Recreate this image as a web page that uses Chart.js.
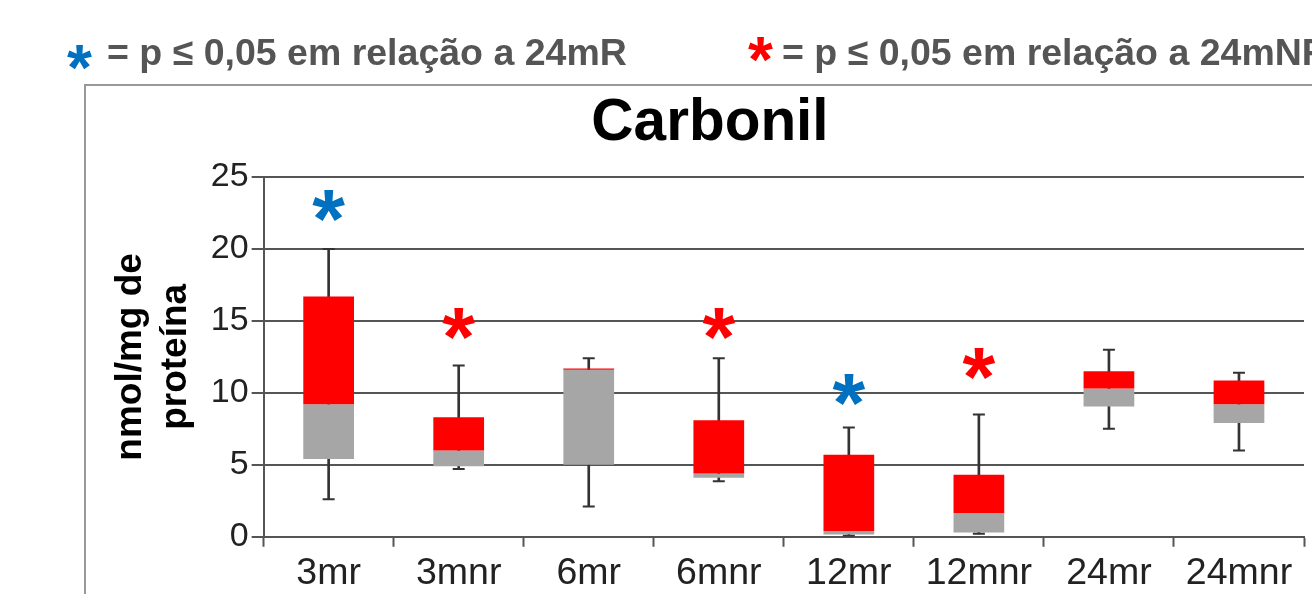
<!DOCTYPE html>
<html>
<head>
<meta charset="utf-8">
<script src="https://cdn.jsdelivr.net/npm/chart.js@4.4.0/dist/chart.umd.min.js"></script>
<style>
  html, body { margin: 0; padding: 0; background: #fff; }
  body { width: 1312px; height: 594px; position: relative; overflow: hidden; font-family: "Liberation Sans", Arial, sans-serif; }
  #frame { position: absolute; left: 84px; top: 84px; width: 1300px; height: 600px; border-left: 2px solid #999; border-top: 2px solid #999; }
  #chartBox { position: absolute; left: 0; top: 0; width: 1312px; height: 594px; }
  .note { position: absolute; font-weight: bold; font-size: 37.5px; line-height: 37.5px; color: #555; white-space: nowrap; }
  .star { position: absolute; font-weight: bold; font-size: 64px; line-height: 64px; }
  #title { position: absolute; left: 710px; top: 91px; transform: translateX(-50%); font-weight: bold; font-size: 58.5px; line-height: 58.5px; color: #000; white-space: nowrap; }
</style>
</head>
<body>
<div id="frame"></div>
<div id="chartBox"><canvas id="carbonilChart" width="1312" height="594"></canvas></div>
<div class="star" style="left:67px; top:36px; color:#0070c0;">*</div>
<div class="note" style="left:107px; top:34px;">= p ≤ 0,05 em relação a 24mR</div>
<div class="star" style="left:748px; top:28px; color:#ff0000;">*</div>
<div class="note" style="left:782px; top:34px;">= p ≤ 0,05 em relação a 24mNR</div>
<div id="title">Carbonil</div>
<script>
var categories = ['3mr', '3mnr', '6mr', '6mnr', '12mr', '12mnr', '24mr', '24mnr'];
var whiskerLow = [2.6, 4.7, 2.1, 3.85, 0.07, 0.2, 7.5, 6.0];
var quartile1 = [5.4, 4.9, 5.0, 4.1, 0.15, 0.3, 9.05, 7.9];
var median = [9.2, 6.0, 11.6, 4.4, 0.4, 1.65, 10.3, 9.2];
var quartile3 = [16.7, 8.3, 11.7, 8.1, 5.7, 4.3, 11.5, 10.85];
var whiskerHigh = [20.0, 11.9, 12.4, 12.4, 7.6, 8.5, 13.0, 11.4];
var starValue = [23.0, 14.8, null, 14.8, 10.2, 12.0, null, null];
var starColor = ['#0070c0', '#ff0000', null, '#ff0000', '#0070c0', '#ff0000', null, null];
var yTicks = [0, 5, 10, 15, 20, 25];

// asterisks above the boxes, placed with the chart scales
var starPlugin = {
    id: 'stars',
    afterDatasetsDraw: function(chart) {
        var ctx = chart.ctx;
        var x = chart.scales.x;
        var y = chart.scales.y;
        ctx.save();
        ctx.font = 'bold 84px "Liberation Sans", Arial, sans-serif';
        ctx.textAlign = 'center';
        ctx.textBaseline = 'alphabetic';
        var m = ctx.measureText('*');
        var shift = (m.actualBoundingBoxDescent - m.actualBoundingBoxAscent) / 2;
        starValue.forEach(function(v, i) {
            if (v === null) return;
            ctx.fillStyle = starColor[i];
            ctx.fillText('*', x.getPixelForValue(i), y.getPixelForValue(v) - shift);
        });
        ctx.restore();
    }
};

document.addEventListener("DOMContentLoaded", function() {
    var ctx = document.getElementById('carbonilChart').getContext('2d');

    var lowerBox = categories.map(function(c, i) { return [quartile1[i], median[i]]; });
    var upperBox = categories.map(function(c, i) { return [median[i], quartile3[i]]; });
    var stems = categories.map(function(c, i) { return [whiskerLow[i], whiskerHigh[i]]; });

    new Chart(ctx, {
        type: 'bar',
        data: {
            labels: categories,
            datasets: [{
                type: 'line',
                data: whiskerHigh,
                showLine: false,
                pointStyle: 'line',
                pointRadius: 6,
                pointBorderWidth: 2,
                borderColor: '#333',
                order: 0
            }, {
                type: 'line',
                data: whiskerLow,
                showLine: false,
                pointStyle: 'line',
                pointRadius: 6,
                pointBorderWidth: 2,
                borderColor: '#333',
                order: 0
            }, {
                data: upperBox,
                backgroundColor: '#ff0000',
                grouped: false,
                barPercentage: 0.39,
                categoryPercentage: 1,
                order: 1
            }, {
                data: lowerBox,
                backgroundColor: '#a6a6a6',
                grouped: false,
                barPercentage: 0.39,
                categoryPercentage: 1,
                order: 2
            }, {
                data: stems,
                backgroundColor: '#333',
                grouped: false,
                barThickness: 2,
                order: 3
            }]
        },
        options: {
            responsive: false,
            animation: false,
            layout: {
                padding: { top: 177, left: 105, right: 1, bottom: -6 }
            },
            plugins: {
                legend: { display: false },
                tooltip: { enabled: false },
                title: { display: false }
            },
            scales: {
                x: {
                    grid: {
                        offset: true,
                        drawOnChartArea: false,
                        drawTicks: true,
                        tickLength: 10,
                        tickWidth: 2,
                        color: '#555'
                    },
                    border: { display: true, color: '#555', width: 2 },
                    ticks: {
                        color: '#222',
                        font: { family: '"Liberation Sans", Arial, sans-serif', size: 37.5, lineHeight: 1.1 },
                        padding: 6
                    }
                },
                y: {
                    min: 0,
                    max: 25,
                    afterBuildTicks: function(axis) {
                        axis.ticks = yTicks.map(function(v) { return { value: v }; });
                    },
                    grid: {
                        color: '#555',
                        lineWidth: 2,
                        tickLength: 12,
                        drawTicks: true
                    },
                    border: { display: true, color: '#555', width: 2 },
                    ticks: {
                        color: '#222',
                        font: { family: '"Liberation Sans", Arial, sans-serif', size: 34 },
                        padding: 3
                    },
                    title: {
                        display: true,
                        text: ['nmol/mg de', 'proteína'],
                        color: '#000',
                        font: { family: '"Liberation Sans", Arial, sans-serif', size: 37, weight: 'bold' },
                        padding: { top: 4, bottom: 10 }
                    }
                }
            }
        },
        plugins: [starPlugin]
    });
});
</script>
</body>
</html>
